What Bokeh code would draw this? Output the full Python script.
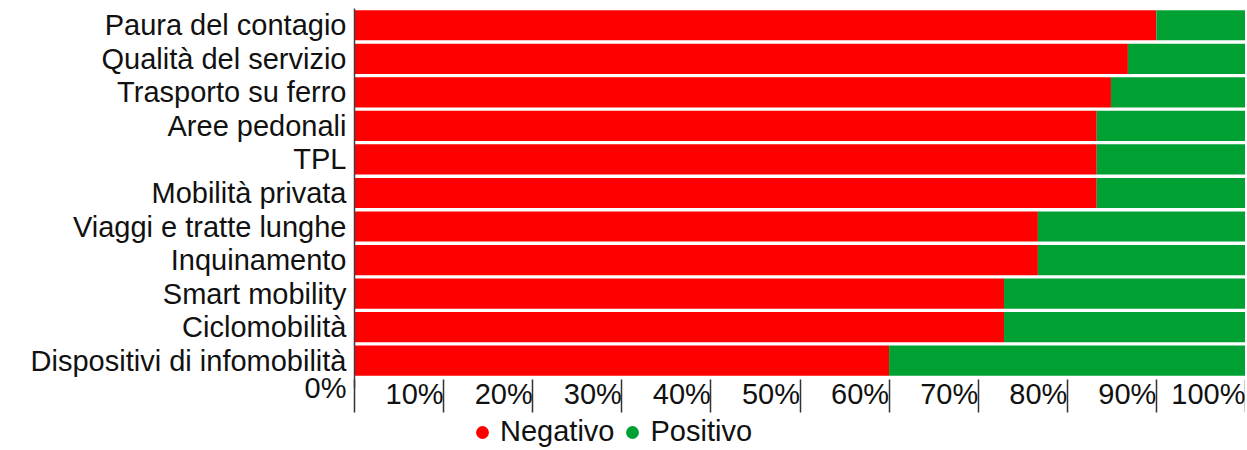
from bokeh.plotting import figure
from bokeh.layouts import column
from bokeh.models import (Range1d, LinearAxis, FixedTicker, Legend, LegendItem,
                          ColumnDataSource, CustomLabelingPolicy)
from bokeh.embed import file_html
from bokeh.resources import INLINE

# ---------------- data ----------------
categories = ["Paura del contagio", "Qualità del servizio", "Trasporto su ferro",
              "Aree pedonali", "TPL", "Mobilità privata", "Viaggi e tratte lunghe",
              "Inquinamento", "Smart mobility", "Ciclomobilità",
              "Dispositivi di infomobilità"]
negativo = [90.0, 86.8, 84.9, 83.3, 83.3, 83.3, 76.7, 76.7, 72.9, 72.9, 60.0]
positivo = [10.0, 13.2, 15.1, 16.7, 16.7, 16.7, 23.3, 23.3, 27.1, 27.1, 40.0]
series = ["Negativo", "Positivo"]
tick_values = [0, 10, 20, 30, 40, 50, 60, 70, 80, 90, 100]
tick_labels = ["0%", "10%", "20%", "30%", "40%", "50%", "60%", "70%", "80%", "90%", "100%"]

# ---------------- style ----------------
colors = ["#FF0000", "#00A032"]
FONT = "Liberation Sans"
FS = 29
W = 1245
LEG_H = 32
H = 448 - LEG_H
LEFT = 354
TOP = 8
plot_w = W - LEFT
GAP = 10          # px of empty frame below the last bar (room for the "0%" label)
TEXT = "#111111"
AXIS = "#404040"


def label_width(lbl):
    return sum(0.889 if ch == "%" else 0.556 for ch in lbl) * FS


n = len(categories)
ypos = [n - 1 - i for i in range(n)]          # first category on top
y_start = -0.8

p = figure(width=W, height=H,
           y_range=Range1d(y_start, n - 0.5),
           x_range=Range1d(0, 100),
           output_backend="svg", toolbar_location=None,
           x_axis_location=None, y_axis_location=None,
           min_border_left=LEFT, min_border_right=0,
           min_border_top=TOP, min_border_bottom=0,
           outline_line_color=None)
p.grid.grid_line_color = None

source = ColumnDataSource(dict(y=ypos, Negativo=negativo, Positivo=positivo))
p.hbar_stack(series, y="y", height=0.9, fill_color=colors, line_color=None,
             source=source)

# left axis: category names plus the "0%" label at the bottom corner
overrides = {y: c for y, c in zip(ypos, categories)}
overrides[y_start] = tick_labels[0]
y_axis = LinearAxis(ticker=FixedTicker(ticks=[y_start] + ypos),
                    major_label_overrides=overrides,
                    major_tick_out=0, major_tick_in=0,
                    minor_tick_out=0, minor_tick_in=0,
                    axis_line_color=AXIS, axis_line_width=1.5,
                    major_label_standoff=8,
                    major_label_text_font=FONT,
                    major_label_text_font_size=f"{FS}px",
                    major_label_text_color=TEXT)
p.add_layout(y_axis, "left")

# x axis labels: right-aligned to their tick (centre shifted left by half width)
label_pos = [round(v - label_width(l) / 2 * 100 / plot_w, 4)
             for v, l in zip(tick_values[1:], tick_labels[1:])]
axis_labels = LinearAxis(ticker=FixedTicker(ticks=label_pos),
                         major_label_overrides={pos: l for pos, l in zip(label_pos, tick_labels[1:])},
                         major_tick_out=0, major_tick_in=0,
                         minor_tick_out=0, minor_tick_in=0,
                         axis_line_color=None, major_label_standoff=-GAP,
                         major_label_text_font=FONT,
                         major_label_text_font_size=f"{FS}px",
                         major_label_text_color=TEXT)
p.add_layout(axis_labels, "below")

# x axis ticks: long tick marks reaching up to the bars (no labels)
axis_ticks = LinearAxis(ticker=FixedTicker(ticks=tick_values),
                        major_label_policy=CustomLabelingPolicy(code="return []"),
                        major_label_text_font_size="1px",
                        major_label_standoff=0,
                        major_tick_in=33, major_tick_out=0,
                        minor_tick_out=0, minor_tick_in=0,
                        axis_line_color=None,
                        major_tick_line_color="#333333",
                        major_tick_line_width=1.5)
p.add_layout(axis_ticks, "below")

# legend strip underneath (frame aligned with the chart's frame)
lf = figure(width=W, height=LEG_H, x_range=Range1d(0, 1), y_range=Range1d(0, 1),
            output_backend="svg", toolbar_location=None,
            x_axis_location=None, y_axis_location=None,
            min_border=0, outline_line_color=None)
lf.grid.visible = False
dots = [lf.scatter(x=s, y="y", source=source, size=0, marker="circle",
                   fill_color=c, line_color=None)
        for s, c in zip(series, colors)]
legend = Legend(items=[LegendItem(label=s, renderers=[d]) for s, d in zip(series, dots)],
                orientation="horizontal", location=(112, 0),
                border_line_color=None, background_fill_alpha=0,
                padding=0, margin=0, spacing=2,
                glyph_width=32, glyph_height=32, label_standoff=2,
                label_height=32,
                label_text_font=FONT, label_text_font_size=f"{FS}px",
                label_text_color=TEXT)
lf.add_layout(legend, "center")

layout = column(p, lf, spacing=0)
open("out.html", "w").write(file_html(layout, INLINE))
